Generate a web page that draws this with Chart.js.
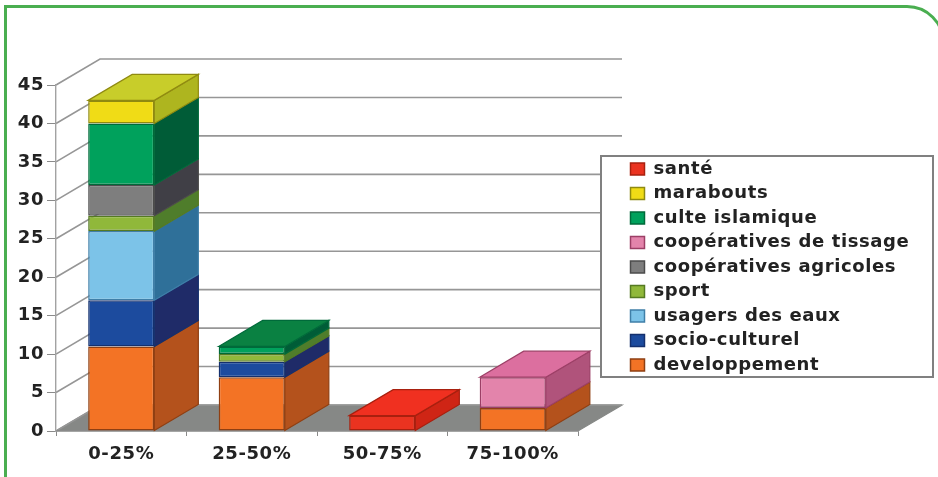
<!DOCTYPE html>
<html>
<head>
<meta charset="utf-8">
<style>
html,body{margin:0;padding:0;background:#fff;width:938px;height:477px;overflow:hidden}
#frame{position:absolute;left:4px;top:5px;width:941px;height:520px;box-sizing:border-box;border:3px solid #4aae50;border-top-right-radius:38px}
canvas{position:absolute;left:0;top:0}
</style>
<script src="https://cdn.jsdelivr.net/npm/chart.js@4"></script>
</head>
<body>
<div id="frame"></div>
<canvas id="c" width="938" height="477"></canvas>
<script>
const categories = ['0-25%', '25-50%', '50-75%', '75-100%'];
const yTicks = [0, 5, 10, 15, 20, 25, 30, 35, 40, 45];
const developpement = [11, 7, null, 3];
const socioCulturel = [6, 2, null, null];
const usagersDesEaux = [9, null, null, null];
const sport = [2, 1, null, null];
const cooperativesAgricoles = [4, null, null, null];
const cooperativesDeTissage = [null, null, null, 4];
const culteIslamique = [8, 1, null, null];
const marabouts = [3, null, null, null];
const sante = [null, null, 2, null];

const seriesNames = ['developpement', 'socio-culturel', 'usagers des eaux', 'sport',
  'coopératives agricoles', 'coopératives de tissage', 'culte islamique', 'marabouts', 'santé'];
const seriesValues = [developpement, socioCulturel, usagersDesEaux, sport,
  cooperativesAgricoles, cooperativesDeTissage, culteIslamique, marabouts, sante];

const frontColors = ['#f37325', '#1c4b9e', '#7cc3e8', '#90b83a', '#7e7e7e', '#e384ab', '#00a15c', '#f0dc16', '#ea3320'];
const edgeColors  = ['#8f3f12', '#14306e', '#3f7fa8', '#557a22', '#4c4c4c', '#9c3f66', '#006a3a', '#8f8a10', '#a8200f'];
const sideColors  = ['#b4521c', '#1f2b68', '#2f7099', '#4f7d2b', '#403f46', '#b0537b', '#005c37', '#aeb51f', '#cf2515'];
const topColors   = ['#d9661f', '#1c3a88', '#5aa0c8', '#7aa032', '#666666', '#dc6f9f', '#0a8142', '#c8cd2a', '#f03020'];

const DEPTH_X = 44, DEPTH_Y = 26;

function poly(ctx, pts, fill, stroke) {
  ctx.beginPath();
  pts.forEach((p, i) => i ? ctx.lineTo(p[0], p[1]) : ctx.moveTo(p[0], p[1]));
  ctx.closePath();
  ctx.fillStyle = fill;
  ctx.fill();
  ctx.strokeStyle = stroke;
  ctx.lineWidth = 1.2;
  ctx.stroke();
}

const scene3d = {
  id: 'scene3d',
  beforeDraw(chart) {
    const ctx = chart.ctx, { left, right } = chart.chartArea;
    ctx.letterSpacing = '0.6px';
    const y = chart.scales.y, base = y.getPixelForValue(0);
    ctx.save();
    poly(ctx, [[left, base], [left + DEPTH_X, base - DEPTH_Y], [right + DEPTH_X, base - DEPTH_Y], [right, base]], '#868886', '#868886');
    ctx.strokeStyle = '#969696';
    ctx.lineWidth = 1.6;
    y.ticks.forEach(t => {
      const py = y.getPixelForValue(t.value);
      ctx.beginPath();
      ctx.moveTo(left, py);
      ctx.lineTo(left + DEPTH_X, py - DEPTH_Y);
      ctx.lineTo(right + DEPTH_X, py - DEPTH_Y);
      ctx.stroke();
    });
    // legend box, under the native legend
    ctx.fillStyle = '#fff';
    ctx.fillRect(601, 156, 332, 221);
    ctx.strokeStyle = '#808080';
    ctx.lineWidth = 2;
    ctx.strokeRect(601, 156, 332, 221);
    ctx.restore();
    const lg = chart.legend;
    lg.left = 630.5 - lg.options.labels.padding;
    lg.top = 160 - lg.options.labels.padding;
    lg.right = 933;
    lg.bottom = 420;
    lg.width = lg.right - lg.left;
    lg.height = lg.bottom - lg.top;
  },
  afterDatasetsDraw(chart) {
    const ctx = chart.ctx;
    ctx.save();
    categories.forEach((_, c) => {
      let topIdx = -1;
      seriesValues.forEach((vals, s) => {
        if (vals[c] == null) return;
        topIdx = s;
        const b = chart.getDatasetMeta(s).data[c];
        const xr = b.x + b.width / 2;
        poly(ctx, [[xr, b.y], [xr + DEPTH_X, b.y - DEPTH_Y], [xr + DEPTH_X, b.base - DEPTH_Y], [xr, b.base]], sideColors[s], edgeColors[s]);
      });
      if (topIdx >= 0) {
        const b = chart.getDatasetMeta(topIdx).data[c];
        const xl = b.x - b.width / 2, xr = b.x + b.width / 2;
        poly(ctx, [[xl, b.y], [xl + DEPTH_X, b.y - DEPTH_Y], [xr + DEPTH_X, b.y - DEPTH_Y], [xr, b.y]], topColors[topIdx], edgeColors[topIdx]);
      }
    });
    ctx.restore();
  }
};

new Chart(document.getElementById('c'), {
  type: 'bar',
  data: {
    labels: categories,
    datasets: seriesNames.map((name, s) => ({
      label: name,
      data: seriesValues[s],
      backgroundColor: frontColors[s],
      borderColor: edgeColors[s],
      borderWidth: 1.5,
      borderSkipped: false,
      barPercentage: 1,
      categoryPercentage: 0.507
    }))
  },
  options: {
    responsive: false,
    animation: false,
    layout: { padding: { left: 0, right: 360, top: 85, bottom: 0 } },
    plugins: {
      tooltip: { enabled: false },
      legend: {
        display: true,
        position: 'chartArea',
        align: 'start',
        reverse: true,
        labels: {
          boxWidth: 14,
          boxHeight: 12,
          padding: 6.5,
          color: '#222222',
          font: { family: '"DejaVu Sans"', size: 18, weight: 'bold', lineHeight: 1.2 }
        }
      }
    },
    scales: {
      x: {
        stacked: true,
        afterFit: s => { s.height = 46; },
        grid: { display: true, drawOnChartArea: false, drawTicks: true, tickLength: 5, color: '#8a8a8a' },
        border: { display: true, color: '#8a8a8a', width: 1.4 },
        ticks: { color: '#222222', padding: 8, maxRotation: 0, font: { family: '"DejaVu Sans"', size: 18, weight: 'bold' } }
      },
      y: {
        stacked: true,
        min: yTicks[0],
        max: yTicks[yTicks.length - 1],
        afterFit: s => { s.width = 56; },
        afterBuildTicks: s => { s.ticks = yTicks.map(v => ({ value: v })); },
        grid: { display: true, drawOnChartArea: false, drawTicks: true, tickLength: 9, color: '#8a8a8a' },
        border: { display: true, color: '#a2a2a2', width: 1.4 },
        ticks: { color: '#222222', padding: 3, font: { family: '"DejaVu Sans"', size: 18, weight: 'bold' } }
      }
    }
  },
  plugins: [scene3d]
});
</script>
</body>
</html>
